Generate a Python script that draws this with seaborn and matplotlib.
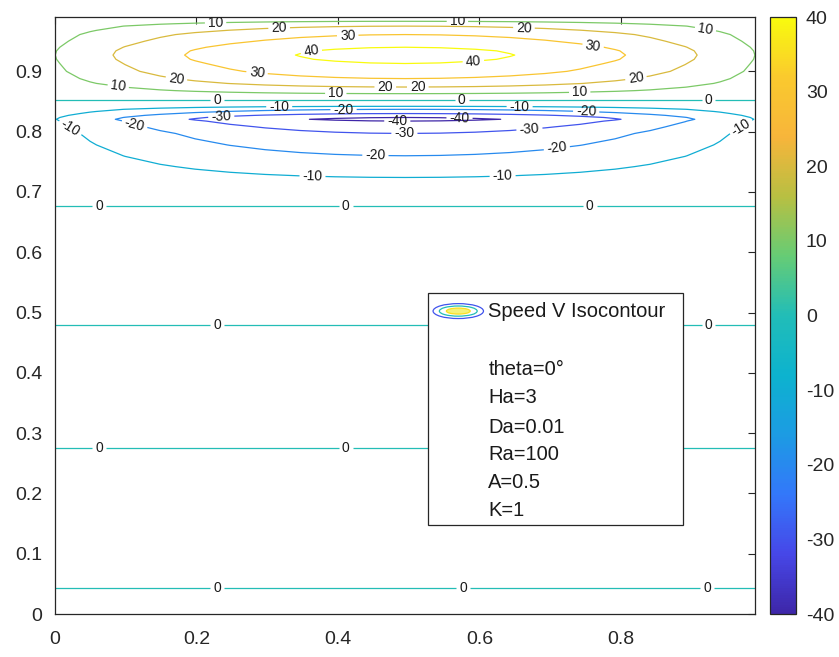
import numpy as np
import matplotlib
matplotlib.use("Agg")
import matplotlib.pyplot as plt
import seaborn as sns
from matplotlib.patches import Rectangle, Ellipse
from matplotlib.colors import Normalize
from matplotlib.cm import ScalarMappable

# ---------------- data ----------------
# x positions of the grid columns and the relative strength of V across x
x_grid = [0.0, 0.0495, 0.099, 0.1485, 0.198, 0.2475, 0.297, 0.3465, 0.396, 0.4455,
          0.495, 0.5445, 0.594, 0.6435, 0.693, 0.7425, 0.792, 0.8415, 0.891, 0.9405, 0.99]
x_envelope = [0.230, 0.376, 0.507, 0.622, 0.723, 0.807, 0.877, 0.931, 0.969, 0.992,
              1.000, 0.992, 0.969, 0.931, 0.877, 0.807, 0.723, 0.622, 0.507, 0.376, 0.230]

# y positions of the grid rows and speed V read along the middle of the cavity
y_grid = [0.000, 0.020, 0.044, 0.090, 0.160, 0.220, 0.276, 0.320, 0.380, 0.440,
          0.480, 0.520, 0.580, 0.630, 0.677, 0.700, 0.724, 0.742, 0.760, 0.778,
          0.797, 0.808, 0.8175, 0.8205, 0.8235, 0.827, 0.830, 0.8335, 0.837, 0.842,
          0.847, 0.852, 0.857, 0.863, 0.868, 0.874, 0.880, 0.888, 0.900, 0.913,
          0.920, 0.927, 0.934, 0.940, 0.950, 0.961, 0.968, 0.975, 0.979, 0.983, 0.990]
v_mid = [-2.0, -1.5, 0.0, 2.0, 3.0, 2.0, 0.0, -2.0, -3.0, -2.0,
         0.0, 2.0, 3.0, 2.0, 0.0, -4.5, -10.0, -15.0, -20.0, -25.0,
         -30.0, -35.0, -40.0, -42.5, -40.0, -35.0, -30.0, -25.0, -20.0, -10.0,
         -5.0, 0.0, 5.0, 10.0, 15.0, 20.0, 25.0, 30.0, 36.0, 40.0,
         42.3, 43.3, 42.3, 40.0, 35.0, 30.0, 25.0, 20.0, 15.0, 10.0, 2.0]

contour_levels = [-40, -30, -20, -10, 0, 10, 20, 30, 40]
colorbar_ticks = [-40, -30, -20, -10, 0, 10, 20, 30, 40]
x_ticks = [0, 0.2, 0.4, 0.6, 0.8]
y_ticks = [0, 0.1, 0.2, 0.3, 0.4, 0.5, 0.6, 0.7, 0.8, 0.9]
legend_title = "Speed V Isocontour"
legend_params = ["theta=0°", "Ha=3", "Da=0.01", "Ra=100", "A=0.5", "K=1"]

# ---------------- style ----------------
sns.set_theme(style="white")
plt.rcParams["font.family"] = ["Liberation Sans", "DejaVu Sans"]
plt.rcParams["axes.unicode_minus"] = False
plt.rcParams["axes.edgecolor"] = "#262626"
plt.rcParams["xtick.color"] = "#262626"
plt.rcParams["ytick.color"] = "#262626"

parula_like = sns.blend_palette(
    [(0.2422, 0.1504, 0.6603), (0.2760, 0.2800, 0.9100), (0.2000, 0.4700, 0.9800),
     (0.1100, 0.6100, 0.8900), (0.0500, 0.7000, 0.8100), (0.1300, 0.7400, 0.7200),
     (0.4000, 0.8000, 0.4600), (0.7200, 0.7500, 0.2600), (0.9700, 0.7100, 0.2300),
     (0.9800, 0.7900, 0.1800), (0.9763, 0.9831, 0.0538)], n_colors=256, as_cmap=True)
norm = Normalize(vmin=-40, vmax=40)

X, Y = np.meshgrid(np.array(x_grid), np.array(y_grid))
V = np.outer(np.array(v_mid), np.array(x_envelope))

fig = plt.figure(figsize=(8.39, 6.57), dpi=100)
ax = fig.add_axes([0.0656, 0.0654, 0.8344, 0.9086])
cax = fig.add_axes([0.9178, 0.0654, 0.031, 0.9086])

cs = ax.contour(X, Y, V, levels=contour_levels, cmap=parula_like, norm=norm,
                linewidths=0.9)

label_spots = [
    (0.227, 0.981), (0.317, 0.968), (0.414, 0.956), (0.363, 0.930), (0.569, 0.981),
    (0.663, 0.968), (0.761, 0.943), (0.919, 0.964), (0.592, 0.908), (0.171, 0.881),
    (0.285, 0.890), (0.089, 0.872), (0.467, 0.872), (0.513, 0.881), (0.822, 0.885),
    (0.397, 0.860), (0.742, 0.863), (0.229, 0.852), (0.575, 0.853), (0.924, 0.853),
    (0.317, 0.843), (0.408, 0.838), (0.235, 0.827), (0.484, 0.818), (0.572, 0.8225),
    (0.657, 0.843), (0.751, 0.830), (0.112, 0.810), (0.017, 0.797), (0.494, 0.790),
    (0.671, 0.802), (0.969, 0.810), (0.453, 0.755), (0.710, 0.769), (0.364, 0.722),
    (0.633, 0.724), (0.062, 0.677), (0.411, 0.677), (0.756, 0.677), (0.229, 0.478),
    (0.924, 0.478), (0.062, 0.276), (0.411, 0.276), (0.229, 0.044), (0.577, 0.044),
    (0.922, 0.044)]
ax.clabel(cs, inline=True, inline_spacing=3, fontsize=10, colors="#1a1a1a",
          fmt="%d", manual=label_spots)

ax.set_xlim(0, 0.99)
ax.set_ylim(0, 0.99)
ax.set_xticks(x_ticks)
ax.set_xticklabels(["0", "0.2", "0.4", "0.6", "0.8"])
ax.set_yticks(y_ticks)
ax.set_yticklabels(["0", "0.1", "0.2", "0.3", "0.4", "0.5", "0.6", "0.7", "0.8", "0.9"])
ax.tick_params(direction="in", length=5, width=0.8, labelsize=14, top=True, right=True)
ax.tick_params(axis="x", pad=12)
ax.tick_params(axis="y", pad=9)
for sp in ax.spines.values():
    sp.set_linewidth(0.9)
    sp.set_color("#262626")

# legend-like box
ax.add_patch(Rectangle((0.533, 0.149), 0.364, 0.389, transform=ax.transAxes,
                       facecolor="white", edgecolor="#262626", linewidth=0.9, zorder=5))
ax.add_patch(Ellipse((0.576, 0.5075), 0.072, 0.025, transform=ax.transAxes,
                     facecolor="none", edgecolor=parula_like(norm(-30)), lw=0.9, zorder=6))
ax.add_patch(Ellipse((0.576, 0.5075), 0.054, 0.017, transform=ax.transAxes,
                     facecolor="none", edgecolor=parula_like(norm(0)), lw=0.9, zorder=6))
ax.add_patch(Ellipse((0.576, 0.5075), 0.034, 0.010, transform=ax.transAxes,
                     facecolor="#f4f27a", edgecolor=parula_like(norm(35)), lw=0.9, zorder=6))
ax.text(0.619, 0.5075, legend_title, transform=ax.transAxes, fontsize=14.5,
        va="center", ha="left", color="#1a1a1a", zorder=7)
param_y = [0.410, 0.3635, 0.313, 0.268, 0.221, 0.174]
for txt, yy in zip(legend_params, param_y):
    ax.text(0.619, yy, txt, transform=ax.transAxes, fontsize=14.5, va="center",
            ha="left", color="#1a1a1a", zorder=7)

sm = ScalarMappable(norm=norm, cmap=parula_like)
cb = fig.colorbar(sm, cax=cax, ticks=colorbar_ticks)
cb.ax.tick_params(direction="in", length=4, width=0.8, labelsize=14, color="#262626",
                  pad=7)
cb.outline.set_linewidth(0.9)
cb.outline.set_edgecolor("#262626")

fig.savefig("out.png", dpi=100, facecolor="white")
